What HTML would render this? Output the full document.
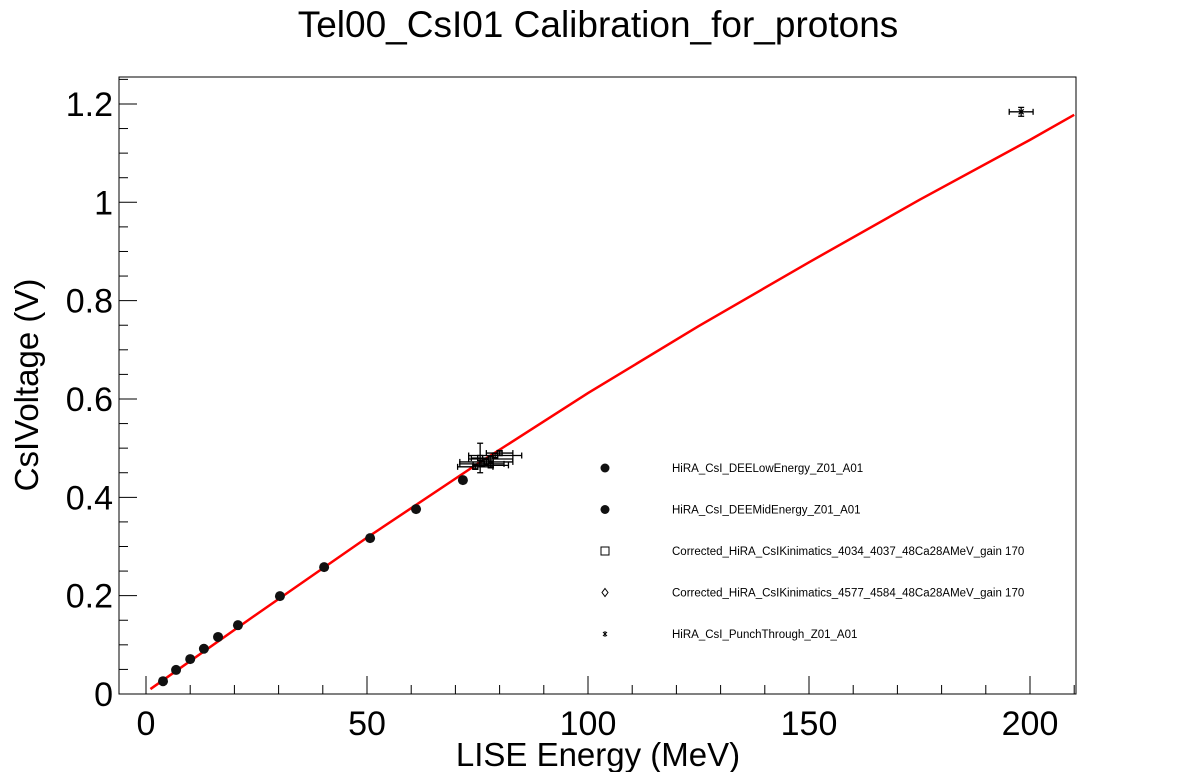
<!DOCTYPE html>
<html><head><meta charset="utf-8"><style>
body{margin:0;background:#fff;}
svg text{font-family:"Liberation Sans",sans-serif;}
</style></head><body>
<svg id="c" width="1196" height="772" xmlns="http://www.w3.org/2000/svg">
<text x="598" y="37" font-size="37" text-anchor="middle">Tel00_CsI01 Calibration_for_protons</text>
<rect x="119" y="77" width="957" height="617" fill="none" stroke="#000" stroke-width="1"/>
<g id="ax"></g><g id="fit"></g><g id="pts"></g><g id="leg"></g>
<text x="598" y="766" font-size="33" text-anchor="middle">LISE Energy (MeV)</text>
<text transform="translate(38,385) rotate(-90)" font-size="33" text-anchor="middle">CsIVoltage (V)</text>
</svg>
<script>
const lowE=[3.85,6.8,10,13.1,16.3,20.8,30.3,40.3,50.7,61.1,71.7];
const lowV=[0.026,0.049,0.071,0.092,0.116,0.140,0.199,0.258,0.317,0.376,0.435];
const kinE=[75.6,79,78,77,76,78,80,74.5];
const kinV=[0.48,0.485,0.478,0.472,0.468,0.465,0.49,0.462];
const kinXErr=[2,6,5,6,5,4,3,4];
const kinYErr=[0.03,0.004,0.004,0.004,0.004,0.004,0.004,0.004];
const ptE=[198];
const ptV=[1.184];
const ptXErr=[2.7];
const ptYErr=[0.009];
const fitE=[1,25,50,75,100,125,150,175,200,210];
const fitV=[0.010,0.162,0.318,0.468,0.612,0.748,0.878,1.005,1.127,1.178];
const xTicks=[0,50,100,150,200];
const yTicks=[0,0.2,0.4,0.6,0.8,1,1.2];
const yLabels=["0","0.2","0.4","0.6","0.8","1","1.2"];
const legendLabels=["HiRA_CsI_DEELowEnergy_Z01_A01","HiRA_CsI_DEEMidEnergy_Z01_A01","Corrected_HiRA_CsIKinimatics_4034_4037_48Ca28AMeV_gain 170","Corrected_HiRA_CsIKinimatics_4577_4584_48Ca28AMeV_gain 170","HiRA_CsI_PunchThrough_Z01_A01"];
const NS="http://www.w3.org/2000/svg";
const X=e=>146+e*4.42, Y=v=>694-v*491.7;
function mk(t,a,p){const e=document.createElementNS(NS,t);for(const k in a)e.setAttribute(k,a[k]);p.appendChild(e);return e;}
const ax=document.getElementById('ax');
for(let e=0;e<=210;e+=10){const maj=e%50===0;const t=mk('line',{x1:X(e),x2:X(e),y1:694,y2:maj?676:685,stroke:'#000'},ax);

}
xTicks.forEach(v=>{const t=mk('text',{x:X(v),y:735,'font-size':34,'text-anchor':'middle'},ax);t.textContent=v;

});
for(let i=0;i<=25;i++){const v=i*0.05;const maj=i%4===0;const t=mk('line',{x1:119,x2:maj?137:128,y1:Y(v),y2:Y(v),stroke:'#000'},ax);

}
yTicks.forEach((v,i)=>{const t=mk('text',{x:113,y:Y(v)+12,'font-size':34,'text-anchor':'end'},ax);t.textContent=yLabels[i];

});
const fit=document.getElementById('fit');
const pl=mk('polyline',{points:fitE.map((e,i)=>X(e)+','+Y(fitV[i])).join(' '),fill:'none',stroke:'#f00','stroke-width':2.5},fit);


const pts=document.getElementById('pts');
lowE.forEach((e,i)=>{const c=mk('circle',{cx:X(e),cy:Y(lowV[i]),r:5,fill:'#111'},pts);

});
function errPt(e,v,xe,ye,name,star){const g=mk('g',{stroke:'#000','stroke-width':1.3},pts);


const x=X(e),y=Y(v),x1=X(e-xe),x2=X(e+xe),y1=Y(v-ye),y2=Y(v+ye);
mk('line',{x1:x1,x2:x2,y1:y,y2:y},g);mk('line',{x1:x1,x2:x1,y1:y-3,y2:y+3},g);mk('line',{x1:x2,x2:x2,y1:y-3,y2:y+3},g);
mk('line',{x1:x,x2:x,y1:y1,y2:y2},g);mk('line',{x1:x-3,x2:x+3,y1:y1,y2:y1},g);mk('line',{x1:x-3,x2:x+3,y1:y2,y2:y2},g);
if(star)mk('path',{d:`M${x-2.5} ${y-2.5}L${x+2.5} ${y+2.5}M${x+2.5} ${y-2.5}L${x-2.5} ${y+2.5}`},g);
else mk('rect',{x:x-2.5,y:y-2.5,width:5,height:5,fill:'none'},g);}
kinE.forEach((e,i)=>errPt(e,kinV[i],kinXErr[i],kinYErr[i],'kinematics-point',false));
ptE.forEach((e,i)=>errPt(e,ptV[i],ptXErr[i],ptYErr[i],'punch-through-point',true));
const leg=document.getElementById('leg');
legendLabels.forEach((l,i)=>{const y=468+i*41.5;const g=mk('g',{},leg);


if(i<2)mk('circle',{cx:605,cy:y,r:4.5,fill:'#111'},g);
else if(i===2)mk('rect',{x:601,y:y-4,width:8,height:8,fill:'none',stroke:'#000'},g);
else if(i===3)mk('path',{d:`M605 ${y-4}L608 ${y}L605 ${y+4}L602 ${y}Z`,fill:'none',stroke:'#000'},g);
else mk('path',{d:`M603 ${y-2}L607 ${y+2}M607 ${y-2}L603 ${y+2}M605 ${y-3}V${y+3}`,stroke:'#000'},g);
const t=mk('text',{x:672,y:y+4,'font-size':11.5},g);t.textContent=l;});
</script>
</body></html>
